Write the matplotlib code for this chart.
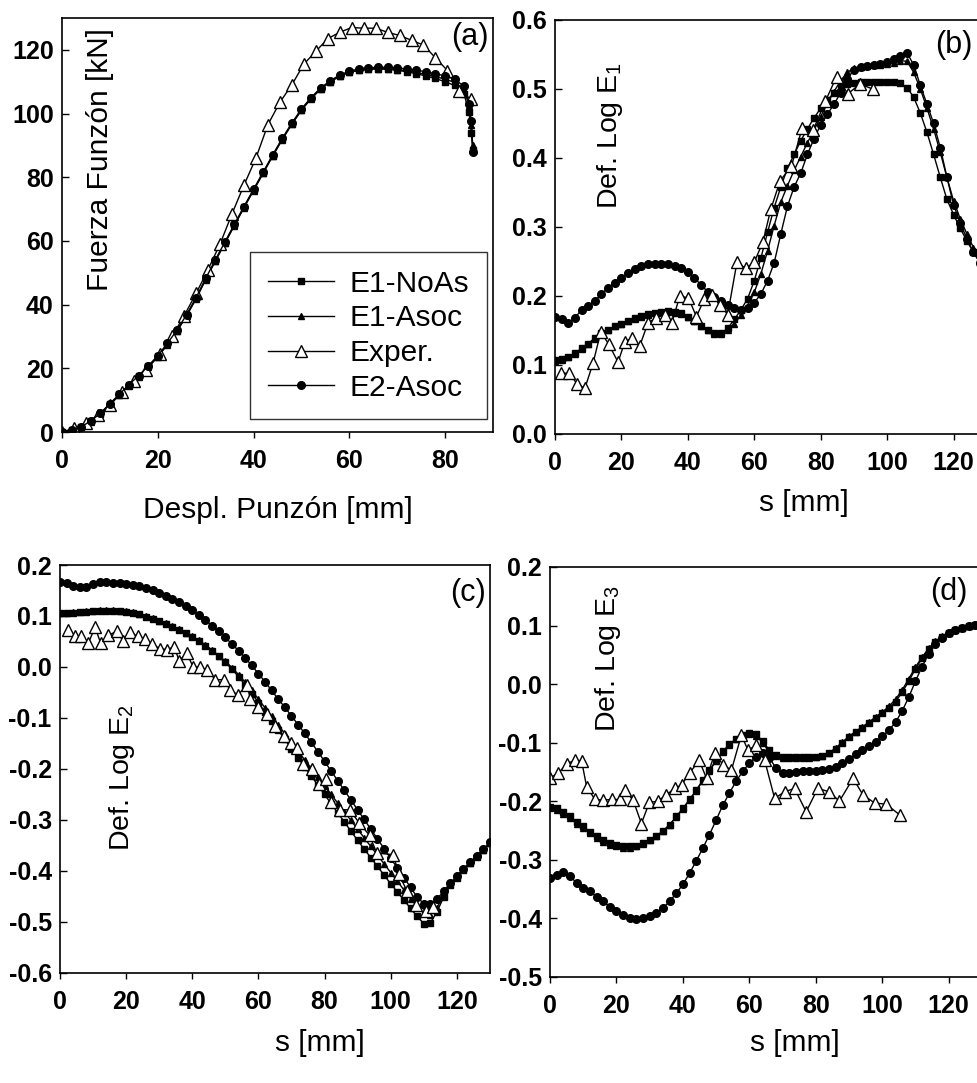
import matplotlib
matplotlib.use("Agg")
import matplotlib.pyplot as plt

plt.rcParams['font.family'] = ['Liberation Sans', 'DejaVu Sans']
plt.rcParams['mathtext.fontset'] = 'custom'
plt.rcParams['mathtext.rm'] = 'Liberation Sans'
plt.rcParams['mathtext.it'] = 'Liberation Sans:italic'
plt.rcParams['axes.unicode_minus'] = False

# ---------------- data ----------------
# (a) punch force vs punch displacement
x_a_sim = [0, 2, 4, 6, 8, 10, 12, 14, 16, 18, 20, 22, 24, 26, 28, 30, 32, 34, 36, 38, 40,
           42, 44, 46, 48, 50, 52, 54, 56, 58, 60, 62, 64, 66, 68, 70, 72, 74, 76, 78, 80,
           82, 84, 85, 85.5, 85.8]
f_e1noas = [0, 0.6, 1.6, 3.3, 5.8, 8.8, 11.8, 14.8, 17.6, 20.6, 23.8, 27.6, 31.8, 36.6, 42.0,
            48.0, 53.8, 59.4, 65.0, 70.6, 76.0, 81.4, 86.8, 92.0, 96.8, 101.2, 104.8, 107.8,
            110.0, 111.8, 113.0, 113.6, 113.9, 114.0, 113.9, 113.6, 113.1, 112.5, 111.8, 111.0,
            110.0, 108.8, 106.0, 100.5, 94.0, 88.5]
f_e1asoc = [0, 0.5, 1.5, 3.2, 5.6, 8.6, 11.6, 14.6, 17.4, 20.4, 23.6, 27.4, 31.6, 36.4, 41.8,
            47.8, 53.6, 59.2, 64.8, 70.4, 75.8, 81.2, 86.6, 91.8, 96.6, 101.0, 104.6, 107.6,
            109.9, 111.7, 112.9, 113.6, 114.0, 114.1, 114.0, 113.8, 113.4, 112.9, 112.3, 111.6,
            110.8, 109.8, 107.5, 102.5, 96.5, 90.0]
f_e2asoc = [0, 0.6, 1.7, 3.4, 5.9, 8.9, 11.9, 14.9, 17.7, 20.7, 24.0, 27.8, 32.0, 36.8, 42.2,
            48.2, 54.0, 59.6, 65.2, 70.8, 76.2, 81.6, 87.0, 92.2, 97.0, 101.4, 105.0, 108.0,
            110.3, 112.1, 113.3, 114.0, 114.4, 114.5, 114.5, 114.3, 114.0, 113.6, 113.1, 112.5,
            111.8, 110.8, 108.5, 103.0, 97.5, 87.8]
x_a_exp = [0, 2.5, 5, 7.5, 10, 12.5, 15, 17.5, 20.5, 23, 25.5, 28, 30.5, 33, 35.5, 38, 40.5,
           43, 45.5, 48, 50.5, 53, 55.5, 58, 60.5, 63, 65.5, 68, 70.5, 73, 75.5, 78, 80.5, 83, 85.5]
f_exp = [0, 1.2, 2.8, 5.2, 8.5, 12.5, 16.0, 19.5, 24.5, 30.0, 36.5, 43.5, 51.0, 59.0, 68.5,
         77.5, 86.0, 96.5, 103.5, 109.0, 115.5, 119.5, 123.5, 125.5, 127.0, 126.8, 126.8,
         125.5, 124.5, 123.0, 121.5, 117.5, 113.5, 107.0, 104.5]

# common s grid for the simulations in (b), (c), (d)
s_sim = [0, 2, 4, 6, 8, 10, 12, 14, 16, 18, 20, 22, 24, 26, 28, 30, 32, 34, 36, 38, 40, 42,
         44, 46, 48, 50, 52, 54, 56, 58, 60, 62, 64, 66, 68, 70, 72, 74, 76, 78, 80, 82, 84,
         86, 88, 90, 92, 94, 96, 98, 100, 102, 104, 106, 108, 110, 112, 114, 116, 118, 120,
         122, 124, 126, 128, 130]

# (b) Def. Log E1
e1_noas_b = [0.107, 0.108, 0.112, 0.117, 0.124, 0.131, 0.139, 0.146, 0.151, 0.156, 0.160,
             0.164, 0.168, 0.171, 0.174, 0.176, 0.177, 0.178, 0.177, 0.175, 0.170, 0.164,
             0.157, 0.151, 0.146, 0.146, 0.153, 0.166, 0.180, 0.196, 0.222, 0.255, 0.292,
             0.328, 0.358, 0.385, 0.405, 0.425, 0.442, 0.458, 0.472, 0.484, 0.494, 0.502,
             0.507, 0.509, 0.510, 0.510, 0.510, 0.510, 0.510, 0.510, 0.508, 0.502, 0.488,
             0.465, 0.437, 0.405, 0.372, 0.340, 0.318, 0.298, 0.280, 0.263, 0.248, 0.235]
e1_asoc_b = [0.106, 0.107, 0.111, 0.116, 0.123, 0.130, 0.138, 0.145, 0.151, 0.156, 0.160,
             0.164, 0.167, 0.170, 0.173, 0.175, 0.177, 0.177, 0.176, 0.174, 0.169, 0.163,
             0.156, 0.150, 0.145, 0.145, 0.150, 0.160, 0.172, 0.186, 0.205, 0.232, 0.265,
             0.302, 0.336, 0.360, 0.382, 0.402, 0.422, 0.440, 0.460, 0.479, 0.496, 0.512,
             0.524, 0.530, 0.532, 0.533, 0.534, 0.535, 0.536, 0.538, 0.541, 0.540, 0.524,
             0.500, 0.472, 0.442, 0.408, 0.372, 0.338, 0.312, 0.290, 0.270, 0.255, 0.242]
e2_asoc_b = [0.169, 0.166, 0.161, 0.168, 0.180, 0.186, 0.193, 0.203, 0.212, 0.219, 0.226,
             0.233, 0.239, 0.243, 0.246, 0.247, 0.247, 0.246, 0.244, 0.240, 0.234, 0.226,
             0.216, 0.206, 0.198, 0.193, 0.187, 0.183, 0.180, 0.182, 0.190, 0.203, 0.222,
             0.248, 0.290, 0.330, 0.358, 0.378, 0.405, 0.428, 0.448, 0.463, 0.478, 0.494,
             0.514, 0.528, 0.532, 0.533, 0.534, 0.536, 0.539, 0.543, 0.548, 0.552, 0.535,
             0.505, 0.478, 0.450, 0.415, 0.372, 0.332, 0.306, 0.283, 0.263, 0.248, 0.236]
s_exp_b = [1.8, 4.3, 6.6, 9.0, 11.5, 13.8, 16.2, 19.0, 21.0, 23.2, 25.5, 28.0, 30.5, 33.0,
           35.2, 37.6, 40.2, 42.6, 45.0, 47.4, 49.8, 52.0, 54.8, 57.4, 60.0, 62.6, 65.0,
           67.8, 71.2, 74.4, 77.8, 81.4, 84.8, 88.2, 91.8, 95.6]
exp_b = [0.088, 0.088, 0.073, 0.066, 0.103, 0.148, 0.130, 0.104, 0.133, 0.139, 0.127, 0.161,
         0.168, 0.173, 0.161, 0.200, 0.197, 0.170, 0.196, 0.202, 0.187, 0.173, 0.249, 0.240,
         0.249, 0.278, 0.326, 0.367, 0.388, 0.443, 0.441, 0.482, 0.518, 0.493, 0.507, 0.500]

# (c) Def. Log E2
e1_noas_c = [0.105, 0.105, 0.106, 0.107, 0.108, 0.109, 0.110, 0.110, 0.110, 0.109, 0.108,
             0.106, 0.103, 0.099, 0.095, 0.090, 0.085, 0.079, 0.073, 0.066, 0.059, 0.051,
             0.042, 0.032, 0.021, 0.009, -0.004, -0.019, -0.035, -0.052, -0.070, -0.088,
             -0.106, -0.124, -0.142, -0.160, -0.178, -0.196, -0.214, -0.232, -0.250, -0.268,
             -0.286, -0.304, -0.322, -0.340, -0.357, -0.374, -0.391, -0.408, -0.425, -0.441,
             -0.457, -0.473, -0.489, -0.503, -0.502, -0.480, -0.452, -0.428, -0.413, -0.398,
             -0.385, -0.372, -0.359, -0.346]
e1_asoc_c = [0.106, 0.106, 0.107, 0.108, 0.109, 0.110, 0.111, 0.111, 0.111, 0.110, 0.109,
             0.107, 0.104, 0.100, 0.096, 0.091, 0.086, 0.080, 0.074, 0.067, 0.060, 0.052,
             0.043, 0.033, 0.022, 0.011, -0.001, -0.015, -0.030, -0.046, -0.063, -0.080,
             -0.097, -0.114, -0.131, -0.148, -0.165, -0.182, -0.199, -0.216, -0.233, -0.250,
             -0.267, -0.284, -0.301, -0.318, -0.335, -0.352, -0.369, -0.386, -0.403, -0.420,
             -0.437, -0.454, -0.470, -0.483, -0.486, -0.472, -0.448, -0.426, -0.411, -0.397,
             -0.384, -0.371, -0.358, -0.345]
e2_asoc_c = [0.166, 0.164, 0.159, 0.156, 0.157, 0.163, 0.166, 0.166, 0.165, 0.164, 0.163,
             0.161, 0.159, 0.155, 0.150, 0.145, 0.140, 0.134, 0.127, 0.119, 0.111, 0.102,
             0.092, 0.081, 0.070, 0.058, 0.045, 0.032, 0.018, 0.003, -0.013, -0.029, -0.046,
             -0.063, -0.079, -0.096, -0.113, -0.130, -0.148, -0.166, -0.185, -0.204, -0.223,
             -0.242, -0.261, -0.280, -0.299, -0.318, -0.337, -0.356, -0.375, -0.394, -0.413,
             -0.432, -0.451, -0.464, -0.465, -0.455, -0.440, -0.424, -0.410, -0.396, -0.383,
             -0.370, -0.357, -0.344]
s_exp_c = [2.5, 4.5, 6.5, 8.6, 10.6, 12.3, 14.6, 17.1, 19.2, 21.2, 23.5, 25.7, 27.8, 30.2,
           32.4, 34.6, 36.0, 38.3, 40.3, 42.4, 44.5, 47.0, 49.6, 51.5, 53.8, 56.5, 57.6, 60.0,
           62.6, 65.0, 67.6, 69.8, 71.6, 73.6, 76.2, 78.4, 80.4, 82.0, 84.6, 87.6, 90.4, 93.6,
           95.8, 100.8, 102.4, 105.0, 107.8, 110.8, 112.8]
exp_c = [0.072, 0.060, 0.060, 0.047, 0.078, 0.047, 0.062, 0.070, 0.050, 0.068, 0.060, 0.055,
         0.045, 0.036, 0.034, 0.040, 0.012, 0.027, 0.000, 0.000, -0.006, -0.025, -0.025,
         -0.045, -0.055, -0.035, -0.062, -0.078, -0.092, -0.115, -0.135, -0.150, -0.158,
         -0.190, -0.200, -0.230, -0.220, -0.265, -0.280, -0.280, -0.305, -0.330, -0.365,
         -0.368, -0.405, -0.440, -0.466, -0.478, -0.470]

# (d) Def. Log E3
e1_noas_d = [-0.209, -0.212, -0.218, -0.226, -0.235, -0.243, -0.252, -0.260, -0.266, -0.271,
             -0.274, -0.276, -0.277, -0.276, -0.272, -0.266, -0.259, -0.251, -0.240, -0.226,
             -0.212, -0.197, -0.181, -0.164, -0.147, -0.130, -0.115, -0.103, -0.093, -0.087,
             -0.084, -0.086, -0.097, -0.113, -0.121, -0.124, -0.125, -0.125, -0.125, -0.125,
             -0.124, -0.122, -0.118, -0.111, -0.101, -0.090, -0.082, -0.075, -0.067, -0.058,
             -0.050, -0.041, -0.030, -0.014, 0.005, 0.026, 0.044, 0.060, 0.072, 0.081, 0.088,
             0.092, 0.096, 0.099, 0.101, 0.102]
e1_asoc_d = [-0.212, -0.215, -0.221, -0.229, -0.238, -0.246, -0.255, -0.263, -0.269, -0.274,
             -0.277, -0.279, -0.279, -0.277, -0.273, -0.267, -0.260, -0.251, -0.240, -0.227,
             -0.213, -0.198, -0.182, -0.165, -0.148, -0.131, -0.116, -0.104, -0.094, -0.088,
             -0.085, -0.088, -0.100, -0.116, -0.123, -0.126, -0.127, -0.127, -0.127, -0.126,
             -0.125, -0.122, -0.117, -0.109, -0.099, -0.089, -0.081, -0.073, -0.065, -0.056,
             -0.048, -0.038, -0.026, -0.010, 0.009, 0.029, 0.046, 0.061, 0.073, 0.082, 0.088,
             0.092, 0.096, 0.099, 0.101, 0.102]
e2_asoc_d = [-0.331, -0.326, -0.320, -0.327, -0.340, -0.348, -0.354, -0.363, -0.371, -0.380,
             -0.388, -0.394, -0.399, -0.401, -0.400, -0.396, -0.390, -0.382, -0.371, -0.357,
             -0.342, -0.323, -0.302, -0.280, -0.257, -0.232, -0.207, -0.186, -0.166, -0.149,
             -0.135, -0.124, -0.118, -0.126, -0.143, -0.152, -0.151, -0.150, -0.149, -0.149,
             -0.148, -0.147, -0.145, -0.141, -0.135, -0.128, -0.120, -0.113, -0.106, -0.098,
             -0.089, -0.079, -0.065, -0.046, -0.022, 0.005, 0.030, 0.052, 0.068, 0.079, 0.087,
             0.092, 0.096, 0.099, 0.101, 0.102]
s_exp_d = [0.0, 2.5, 5.0, 7.5, 9.5, 11.0, 13.5, 16.0, 18.5, 21.0, 22.5, 25.0, 27.5, 29.9,
           32.4, 35.0, 37.6, 39.6, 42.0, 44.9, 47.1, 49.6, 52.1, 54.6, 57.6, 59.6, 62.1, 64.6,
           67.6, 70.6, 73.6, 77.1, 80.6, 84.1, 87.1, 91.2, 94.2, 97.7, 101.2, 105.2]
exp_d = [-0.160, -0.152, -0.136, -0.130, -0.131, -0.175, -0.197, -0.198, -0.197, -0.197,
         -0.181, -0.198, -0.238, -0.202, -0.200, -0.189, -0.178, -0.172, -0.152, -0.130,
         -0.161, -0.118, -0.138, -0.147, -0.087, -0.113, -0.104, -0.130, -0.195, -0.184,
         -0.178, -0.218, -0.178, -0.184, -0.200, -0.161, -0.189, -0.203, -0.205, -0.223]

labels = ["E1-NoAs", "E1-Asoc", "Exper.", "E2-Asoc"]

# ---------------- plotting ----------------
sty_noas = dict(color='k', lw=1.0, marker='s', ms=4.3, mfc='k', mec='k')
sty_asoc = dict(color='k', lw=1.0, marker='^', ms=4.8, mfc='k', mec='k')
sty_exp = dict(color='k', lw=1.0, marker='^', ms=8, mfc='white', mec='k', mew=1.0)
sty_e2 = dict(color='k', lw=1.0, marker='o', ms=5.5, mfc='k', mec='k')

fig = plt.figure(figsize=(9.77, 10.83), dpi=100)

ax_a = fig.add_axes([0.0635, 0.6011, 0.441, 0.3823])
ax_b = fig.add_axes([0.568, 0.5993, 0.442, 0.3823])
ax_c = fig.add_axes([0.0614, 0.1016, 0.440, 0.3767])
ax_d = fig.add_axes([0.563, 0.0979, 0.442, 0.3786])


def style(ax, xlim, ylim, xticks, yticks, yfmt):
    ax.set_xlim(xlim)
    ax.set_ylim(ylim)
    ax.set_xticks(xticks)
    ax.set_yticks(yticks)
    ax.set_yticklabels([yfmt % v for v in yticks])
    ax.tick_params(axis='x', direction='out', length=4, width=1, pad=8, labelsize=18)
    ax.tick_params(axis='y', direction='in', length=5, width=1, pad=6, labelsize=18)
    for lbl in ax.get_xticklabels() + ax.get_yticklabels():
        lbl.set_fontweight('bold')
    for sp in ax.spines.values():
        sp.set_linewidth(1.2)


# (a)
ax_a.plot(x_a_sim, f_e1noas, label=labels[0], **sty_noas)
ax_a.plot(x_a_sim, f_e1asoc, label=labels[1], **sty_asoc)
ax_a.plot(x_a_exp, f_exp, label=labels[2], **sty_exp)
ax_a.plot(x_a_sim, f_e2asoc, label=labels[3], **sty_e2)
style(ax_a, (0, 90), (0, 130), [0, 20, 40, 60, 80], [0, 20, 40, 60, 80, 100, 120], '%d')
ax_a.set_xlabel("Despl. Punzón [mm]", fontsize=21.5)
ax_a.xaxis.set_label_coords(0.5, -0.155)
ax_a.text(0.088, 0.657, "Fuerza Funzón [kN]", rotation=90, fontsize=21.5,
          ha='center', va='center', transform=ax_a.transAxes)
ax_a.text(0.99, 0.954, "(a)", fontsize=22, ha='right', va='center', transform=ax_a.transAxes)
leg = ax_a.legend(loc='upper left', bbox_to_anchor=(0.436, 0.435), borderaxespad=0,
                  fontsize=21.5, handlelength=2.2, handletextpad=0.55, labelspacing=0.22,
                  borderpad=0.6, fancybox=False, edgecolor='k', numpoints=1)
leg.get_frame().set_linewidth(1.0)

# (b)
ax_b.plot(s_sim, e1_noas_b, **sty_noas)
ax_b.plot(s_sim, e1_asoc_b, **sty_asoc)
ax_b.plot(s_sim, e2_asoc_b, **sty_e2)
ax_b.plot(s_exp_b, exp_b, **sty_exp)
style(ax_b, (0, 130), (0, 0.6), [0, 20, 40, 60, 80, 100, 120],
      [0.0, 0.1, 0.2, 0.3, 0.4, 0.5, 0.6], '%.1f')
ax_b.set_xlabel("s [mm]", fontsize=21.5)
ax_b.xaxis.set_label_coords(0.576, -0.132)
ax_b.text(0.127, 0.722, "Def. Log E$_1$", rotation=90, fontsize=20.5,
          ha='center', va='center', transform=ax_b.transAxes)
ax_b.text(0.88, 0.94, "(b)", fontsize=22, ha='left', va='center', transform=ax_b.transAxes)

# (c)
ax_c.plot(s_sim, e1_noas_c, **sty_noas)
ax_c.plot(s_sim, e1_asoc_c, **sty_asoc)
ax_c.plot(s_sim, e2_asoc_c, **sty_e2)
ax_c.plot(s_exp_c, exp_c, **sty_exp)
style(ax_c, (0, 130), (-0.6, 0.2), [0, 20, 40, 60, 80, 100, 120],
      [-0.6, -0.5, -0.4, -0.3, -0.2, -0.1, 0.0, 0.1, 0.2], '%.1f')
ax_c.set_xlabel("s [mm]", fontsize=21.5)
ax_c.xaxis.set_label_coords(0.605, -0.137)
ax_c.text(0.144, 0.478, "Def. Log E$_2$", rotation=90, fontsize=20.5,
          ha='center', va='center', transform=ax_c.transAxes)
ax_c.text(0.907, 0.931, "(c)", fontsize=22, ha='left', va='center', transform=ax_c.transAxes)

# (d)
ax_d.plot(s_sim, e1_noas_d, **sty_noas)
ax_d.plot(s_sim, e1_asoc_d, **sty_asoc)
ax_d.plot(s_sim, e2_asoc_d, **sty_e2)
ax_d.plot(s_exp_d, exp_d, **sty_exp)
style(ax_d, (0, 130), (-0.5, 0.2), [0, 20, 40, 60, 80, 100, 120],
      [-0.5, -0.4, -0.3, -0.2, -0.1, 0.0, 0.1, 0.2], '%.1f')
ax_d.set_xlabel("s [mm]", fontsize=21.5)
ax_d.xaxis.set_label_coords(0.567, -0.127)
ax_d.text(0.134, 0.778, "Def. Log E$_3$", rotation=90, fontsize=20.5,
          ha='center', va='center', transform=ax_d.transAxes)
ax_d.text(0.88, 0.939, "(d)", fontsize=22, ha='left', va='center', transform=ax_d.transAxes)

fig.savefig("out.png", dpi=100)
